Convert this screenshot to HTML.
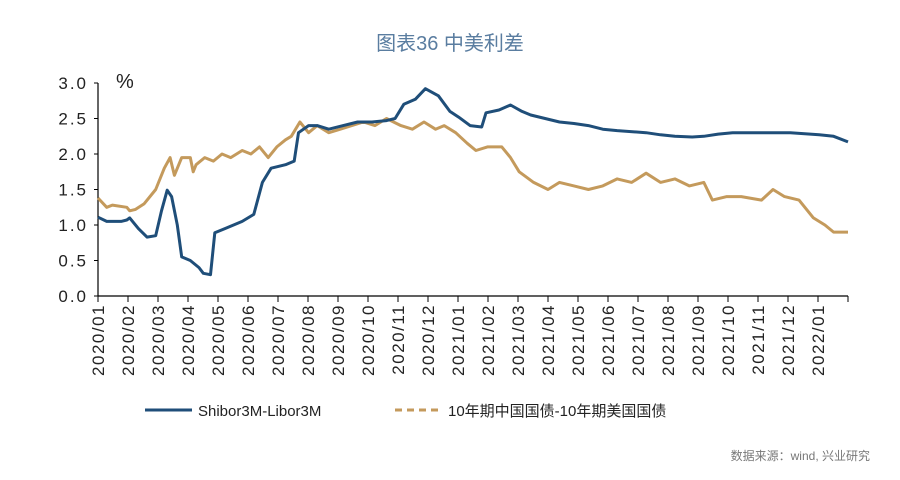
<!DOCTYPE html>
<html><head><meta charset="utf-8"><style>
body{margin:0;background:#fff;}
svg text{font-family:"Liberation Sans","Noto Sans CJK SC",sans-serif;}
</style></head><body>
<svg id="c" width="900" height="475">
<text x="450" y="50" text-anchor="middle" font-size="20" fill="#5a7da0">图表36  中美利差</text>
<text x="116" y="88" font-size="20" font-family="Liberation Serif" fill="#222">%</text>
<g id="axes"></g>
<g id="series"></g>
<g>
<line x1="145" y1="410" x2="192" y2="410" stroke="#1f4e79" stroke-width="3"/>
<text x="198" y="416" font-size="15" fill="#222" font-family="Liberation Mono">Shibor3M-Libor3M</text>
<line x1="395" y1="410" x2="442" y2="410" stroke="#c49a5c" stroke-width="3" stroke-dasharray="7,5"/>
<text x="448" y="416" font-size="15" fill="#222">10年期中国国债-10年期美国国债</text>
</g>
<text x="870" y="460" text-anchor="end" font-size="12" fill="#777">数据来源：wind, 兴业研究</text>
</svg>
<script>
const months=["2020/01","2020/02","2020/03","2020/04","2020/05","2020/06","2020/07","2020/08","2020/09","2020/10","2020/11","2020/12","2021/01","2021/02","2021/03","2021/04","2021/05","2021/06","2021/07","2021/08","2021/09","2021/10","2021/11","2021/12","2022/01"];
const yTicks=[0,0.5,1,1.5,2,2.5,3];
const shiborT=[0,0.3,0.8,1.0,1.1,1.4,1.7,2.0,2.2,2.4,2.55,2.75,2.9,3.2,3.5,3.65,3.9,4.05,4.4,5.0,5.4,5.7,6.0,6.5,6.8,6.95,7.3,7.6,8.0,8.5,9.0,9.5,10.0,10.3,10.6,11.0,11.35,11.8,12.2,12.5,12.9,13.3,13.45,13.9,14.3,14.7,15.0,15.5,16.0,16.5,17.0,17.5,18.0,19.0,19.5,20.0,20.6,21.0,21.5,22.0,23.0,24.0,25.0,25.5,26.0];
const shiborV=[1.11,1.05,1.05,1.07,1.1,0.95,0.83,0.85,1.2,1.49,1.4,1.0,0.55,0.5,0.4,0.32,0.3,0.89,0.95,1.05,1.15,1.6,1.8,1.85,1.9,2.3,2.4,2.4,2.35,2.4,2.45,2.45,2.47,2.5,2.7,2.77,2.92,2.82,2.6,2.52,2.4,2.38,2.58,2.62,2.69,2.6,2.55,2.5,2.45,2.43,2.4,2.35,2.33,2.3,2.27,2.25,2.24,2.25,2.28,2.3,2.3,2.3,2.27,2.25,2.17];
const yieldT=[0,0.3,0.5,1.0,1.1,1.3,1.6,2.0,2.3,2.5,2.65,2.9,3.2,3.3,3.4,3.7,4.0,4.3,4.6,5.0,5.3,5.6,5.9,6.2,6.5,6.7,7.0,7.3,7.6,8.0,8.4,8.8,9.2,9.6,10.0,10.5,10.9,11.3,11.7,12.0,12.4,12.8,13.1,13.5,14.0,14.3,14.6,15.1,15.6,16.0,16.5,17.0,17.5,18.0,18.5,19.0,19.5,20.0,20.5,21.0,21.3,21.8,22.3,23.0,23.4,23.8,24.3,24.8,25.2,25.5,26.0];
const yieldV=[1.38,1.25,1.28,1.25,1.2,1.22,1.3,1.5,1.8,1.95,1.7,1.95,1.95,1.75,1.85,1.95,1.9,2.0,1.95,2.05,2.0,2.1,1.95,2.1,2.2,2.25,2.45,2.3,2.4,2.3,2.35,2.4,2.45,2.4,2.5,2.4,2.35,2.45,2.35,2.4,2.3,2.15,2.05,2.1,2.1,1.95,1.75,1.6,1.5,1.6,1.55,1.5,1.55,1.65,1.6,1.73,1.6,1.65,1.55,1.6,1.35,1.4,1.4,1.35,1.5,1.4,1.35,1.1,1.0,0.9,0.9];
const X0=98,X1=848,Y0=296,Y3=83;
const DATA_SPAN=26, TICK_SPAN=25;
const xs=t=>X0+t*(X1-X0)/DATA_SPAN;
const xt=i=>X0+i*(X1-X0)/TICK_SPAN;
const ys=v=>Y0-v*(Y0-Y3)/3;
const NS="http://www.w3.org/2000/svg";
function mk(tag,attrs,parent){const e=document.createElementNS(NS,tag);for(const k in attrs)e.setAttribute(k,attrs[k]);parent.appendChild(e);return e;}
const ax=document.getElementById('axes');
let l=mk('line',{x1:X0,y1:Y3,x2:X0,y2:Y0,stroke:'#000','stroke-width':1.2},ax);


l=mk('line',{x1:X0,y1:Y0,x2:X1,y2:Y0,stroke:'#000','stroke-width':1.2},ax);


yTicks.forEach(v=>{
  const t=mk('line',{x1:X0-4,y1:ys(v),x2:X0,y2:ys(v),stroke:'#000'},ax);
  
  
  const tx=mk('text',{x:X0-10,y:ys(v)+6,'text-anchor':'end','font-size':17,fill:'#222','letter-spacing':'2'},ax);
  tx.textContent=v.toFixed(1);
  
  
});
for(let i=0;i<=TICK_SPAN;i++){
  const t=mk('line',{x1:xt(i),y1:Y0,x2:xt(i),y2:Y0+6,stroke:'#000'},ax);
  
  
}
months.forEach((m,i)=>{
  const x=xt(i);
  const tx=mk('text',{x:0,y:0,'text-anchor':'end','font-size':17,fill:'#222','letter-spacing':'1.5',transform:`translate(${x+6},${Y0+8}) rotate(-90)`},ax);
  tx.textContent=m;
  
  
});
const sg=document.getElementById('series');
function path(T,V){return T.map((t,i)=>(i?'L':'M')+xs(t).toFixed(1)+','+ys(V[i]).toFixed(1)).join('');}
const p2=mk('path',{d:path(yieldT,yieldV),fill:'none',stroke:'#c49a5c','stroke-width':3,'stroke-linejoin':'round'},sg);


const p1=mk('path',{d:path(shiborT,shiborV),fill:'none',stroke:'#1f4e79','stroke-width':3,'stroke-linejoin':'round'},sg);


</script>
</body></html>
